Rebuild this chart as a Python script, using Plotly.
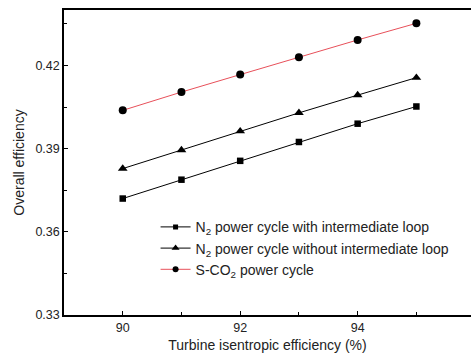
import plotly.graph_objects as go

x_vals = [90, 91, 92, 93, 94, 95]
n2_with_loop = [0.3720, 0.3788, 0.3856, 0.3924, 0.3990, 0.4052]
n2_without_loop = [0.3828, 0.3895, 0.3963, 0.4029, 0.4093, 0.4156]
sco2 = [0.4038, 0.4104, 0.4167, 0.4230, 0.4292, 0.4352]

names = ["N<sub>2</sub> power cycle with intermediate loop",
         "N<sub>2</sub> power cycle without intermediate loop",
         "S-CO<sub>2</sub> power cycle"]
series = [n2_with_loop, n2_without_loop, sco2]
symbols = ["square", "triangle-up", "circle"]
line_colors = ["#000000", "#000000", "#e8505a"]
sizes = [6.5, 8.5, 8]
legend_sizes = [5, 7, 6]

fig = go.Figure()
for nm, ys, sym, lc, sz in zip(names, series, symbols, line_colors, sizes):
    fig.add_trace(go.Scatter(
        x=x_vals, y=ys, name=nm, mode="lines+markers", showlegend=False,
        line=dict(color=lc, width=1),
        marker=dict(symbol=sym, size=sz, color="#000000"),
    ))
# legend entries (smaller symbols, like the reference key)
for nm, sym, lc, lsz in zip(names, symbols, line_colors, legend_sizes):
    fig.add_trace(go.Scatter(
        x=[None], y=[None], name=nm, mode="lines+markers", showlegend=True,
        line=dict(color=lc, width=1),
        marker=dict(symbol=sym, size=lsz, color="#000000"),
    ))

font_family = "Liberation Sans, Arial, sans-serif"
fig.update_layout(
    width=471, height=356,
    margin=dict(l=64, r=0, t=10, b=41),
    plot_bgcolor="white", paper_bgcolor="white",
    font=dict(family=font_family, size=12, color="#222222"),
    showlegend=True,
    legend=dict(x=0.225, y=0.34, xanchor="left", yanchor="top",
                bgcolor="rgba(0,0,0,0)", font=dict(size=14, color="#222222"),
                itemwidth=30, tracegroupgap=0),
)
fig.update_xaxes(
    range=[89, 95.93], dtick=2, tick0=90,
    showline=True, linecolor="black", linewidth=1.5, mirror=True,
    ticks="inside", ticklen=4, tickcolor="black",
    minor=dict(ticks="inside", ticklen=3, dtick=1, tickcolor="black"),
    showgrid=False, zeroline=False,
    tickfont=dict(size=12.5),
    title=dict(text="Turbine isentropic efficiency (%)", font=dict(size=14), standoff=6),
)
fig.update_yaxes(
    range=[0.33, 0.44], dtick=0.03, tick0=0.33, tickformat=".2f",
    showline=True, linecolor="black", linewidth=1.5, mirror=False,
    ticks="inside", ticklen=4, tickcolor="black",
    minor=dict(ticks="inside", ticklen=3, dtick=0.015, tickcolor="black"),
    showgrid=False, zeroline=False,
    tickfont=dict(size=12.5),
    title=dict(text="Overall efficiency", font=dict(size=14), standoff=8),
)
fig.write_html("out.html")
